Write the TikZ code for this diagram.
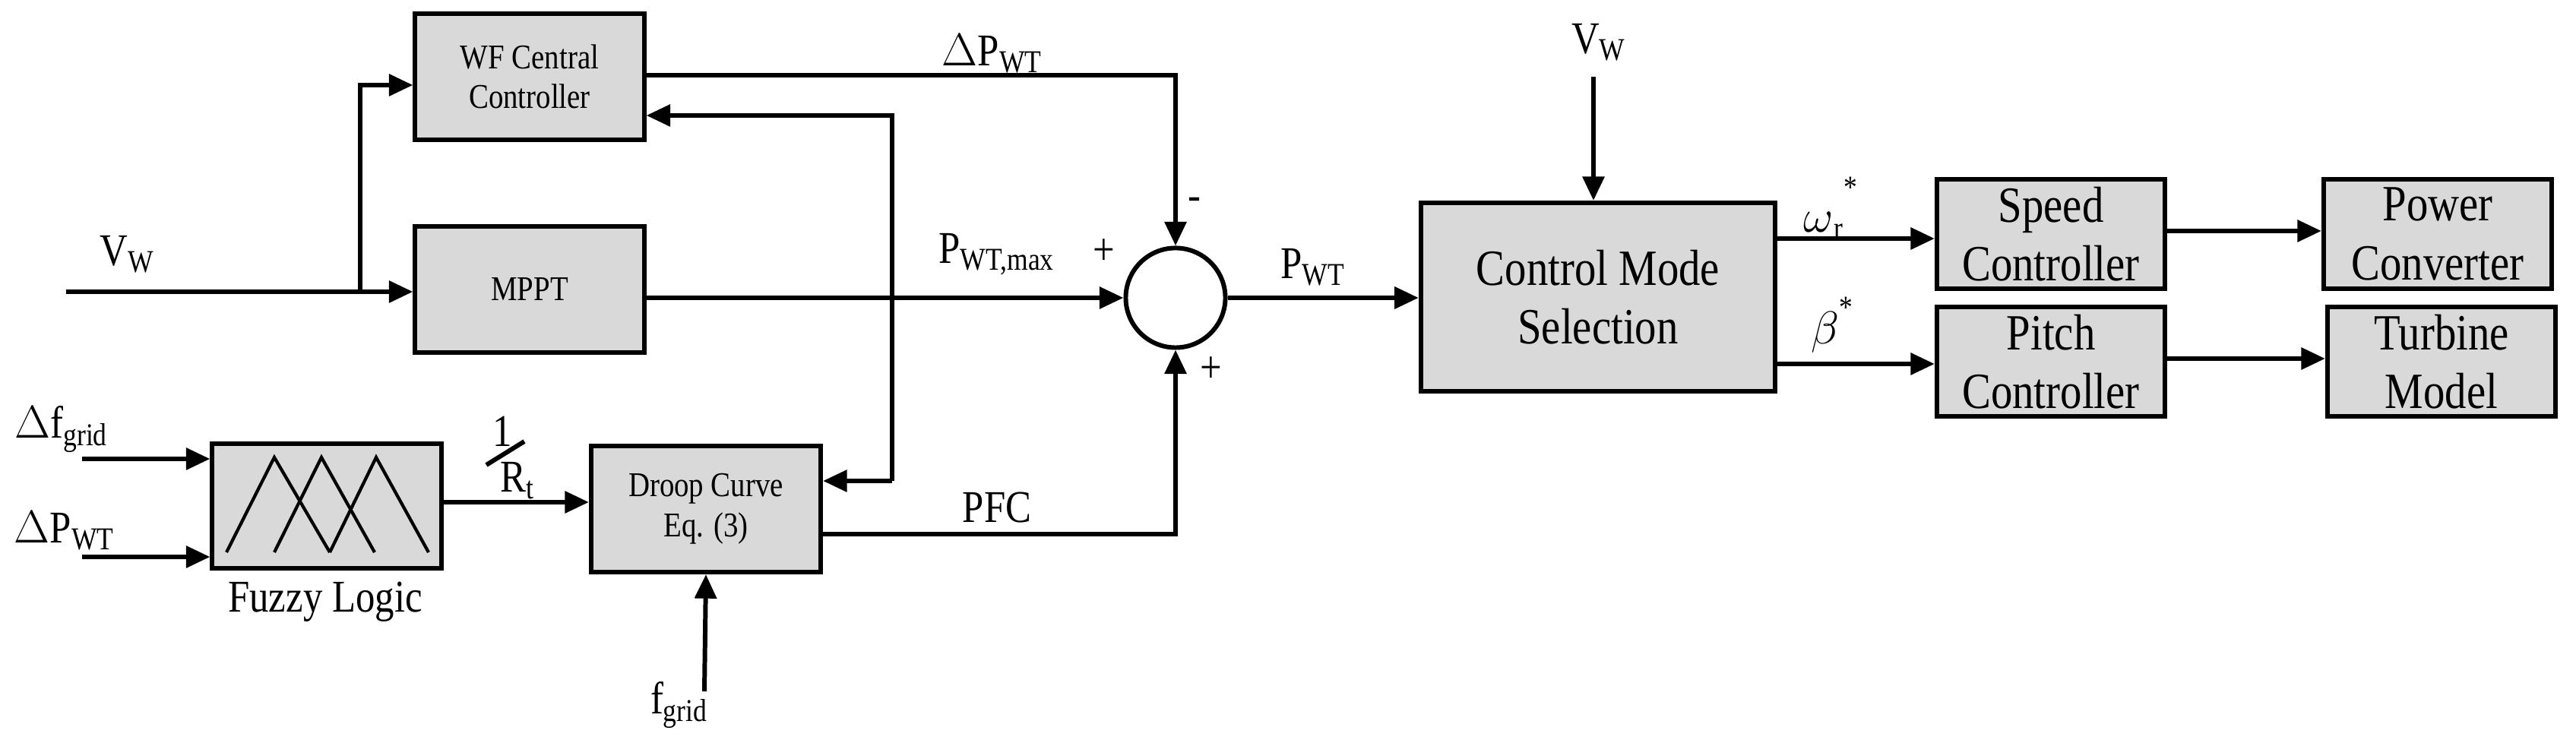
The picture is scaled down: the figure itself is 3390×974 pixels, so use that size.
\documentclass[tikz,border=0pt]{standalone}
\usepackage{fontspec}
\setmainfont{Liberation Serif}[FakeStretch=0.85]
\usetikzlibrary{arrows.meta}
\definecolor{boxgray}{RGB}{217,217,217}
\begin{document}
\begin{tikzpicture}[x=0.01cm,y=-0.01cm,
  blk/.style={draw,line width=1.7pt,fill=boxgray,align=center,inner sep=0pt},
  con/.style={line width=1.7pt,-{Triangle[length=9pt,width=8pt]}},
  ln/.style={line width=1.7pt},
  lbl/.style={font=\fontsize{17}{19}\selectfont,inner sep=0pt},
  big/.style={font=\fontsize{19}{22}\selectfont},
  sml/.style={font=\fontsize{13}{15}\selectfont}]
\useasboundingbox (0,0) rectangle (3390,974);
% blocks
\node[blk,sml,minimum width=3.01cm,minimum height=1.65cm] (wf) at (697,101) {WF Central\\Controller};
\node[blk,sml,minimum width=3.01cm,minimum height=1.65cm] (mppt) at (697,381) {MPPT};
\node[blk,minimum width=3.01cm,minimum height=1.64cm] (fz) at (430,666) {};
\node[blk,sml,minimum width=3.02cm,minimum height=1.66cm] (dr) at (929,670) {Droop Curve\\Eq. (3)};
\node[draw,circle,line width=1.7pt,minimum size=1.31cm,inner sep=0pt] (sum) at (1547,392) {};
\node[blk,big,minimum width=4.66cm,minimum height=2.48cm] (cms) at (2103,391) {Control Mode\\Selection};
\node[blk,big,minimum width=3.0cm,minimum height=1.44cm] (spd) at (2699,308) {Speed\\Controller};
\node[blk,big,minimum width=3.0cm,minimum height=1.44cm] (pit) at (2699,476) {Pitch\\Controller};
\node[blk,big,minimum width=3.0cm,minimum height=1.44cm] (pc) at (3208,308) {Power\\Converter};
\node[blk,big,minimum width=3.0cm,minimum height=1.44cm] (tm) at (3213,476) {Turbine\\Model};
% fuzzy triangles
\draw[line width=1.2pt] (298,727) -- (361,602) -- (434,727);
\draw[line width=1.2pt] (361,727) -- (423,602) -- (493,727);
\draw[line width=1.2pt] (434,727) -- (495,602) -- (564,727);
% coordinates
\coordinate (vwin) at (87,384);
\coordinate (br) at (474,384);
\coordinate (dfin) at (108,604);
\coordinate (dpin) at (108,733);
\coordinate (fgin) at (927,910);
\coordinate (vwtop) at (2097,101);
% connectors
\draw[ln] (vwin) -- (br);
\draw[con] (br) -- (mppt.west |- br);
\draw[con] (br) |- (wf.west |- 0,112);
\draw[con] (wf.east |- 0,99) -| (sum.north);
\draw[con] (mppt.east |- sum) -- (sum.west);
\draw[con] (dfin) -- (fz.west |- dfin);
\draw[con] (dpin) -- (fz.west |- dpin);
\draw[con] (fz.east |- 0,661) -- (dr.west |- 0,661);
\draw[con] (fgin) -- (dr.south);
\draw[con] (dr.east |- 0,703) -| (sum.south);
\draw[con] (1174,633) -- (dr.east |- 0,633);
\draw[con] (1174,633) |- (wf.east |- 0,152);
\draw[con] (sum.east) -- (cms.west |- sum);
\draw[con] (vwtop) -- (cms.north -| vwtop);
\draw[con] (cms.east |- 0,314) -- (spd.west |- 0,314);
\draw[con] (cms.east |- 0,479) -- (pit.west |- 0,479);
\draw[con] (spd.east |- 0,304) -- (pc.west |- 0,304);
\draw[con] (pit.east |- 0,472) -- (tm.west |- 0,472);
\draw[line width=1.7pt] (640,612) -- (690,581);
% labels
\node[lbl] (l1) at (168,335) {V\textsubscript{W}};
\node[lbl] (l2) at (1306,71) {$\Delta$P\textsubscript{WT}};
\node[lbl] (l3) at (1312,335) {P\textsubscript{WT,max}};
\node[lbl] (l4) at (1453,332) {+};
\node[lbl] (l5) at (1572,268) {-};
\node[lbl] (l6) at (1594,487) {+};
\node[lbl] (l7) at (81,565) {$\Delta$f\textsubscript{grid}};
\node[lbl] (l8) at (85,699) {$\Delta$P\textsubscript{WT}};
\node[lbl] (l9) at (428,792) {Fuzzy Logic};
\node[lbl] (l10) at (661,568) {1};
\node[lbl] (l11) at (681,633) {R\textsubscript{t}};
\node[lbl] (l12) at (1312,668) {PFC};
\node[lbl] (l13) at (894,928) {f\textsubscript{grid}};
\node[lbl] (l14) at (1728,352) {P\textsubscript{WT}};
\node[lbl] (l15) at (2104,56) {V\textsubscript{W}};
\node[lbl] (l16) at (2410,274) {$\omega$\textsubscript{r}\textsuperscript{\raisebox{1.2ex}{*}}};
\node[lbl] (l17) at (2412,428) {$\beta$\textsuperscript{\raisebox{0.6ex}{*}}};
\end{tikzpicture}
\end{document}
